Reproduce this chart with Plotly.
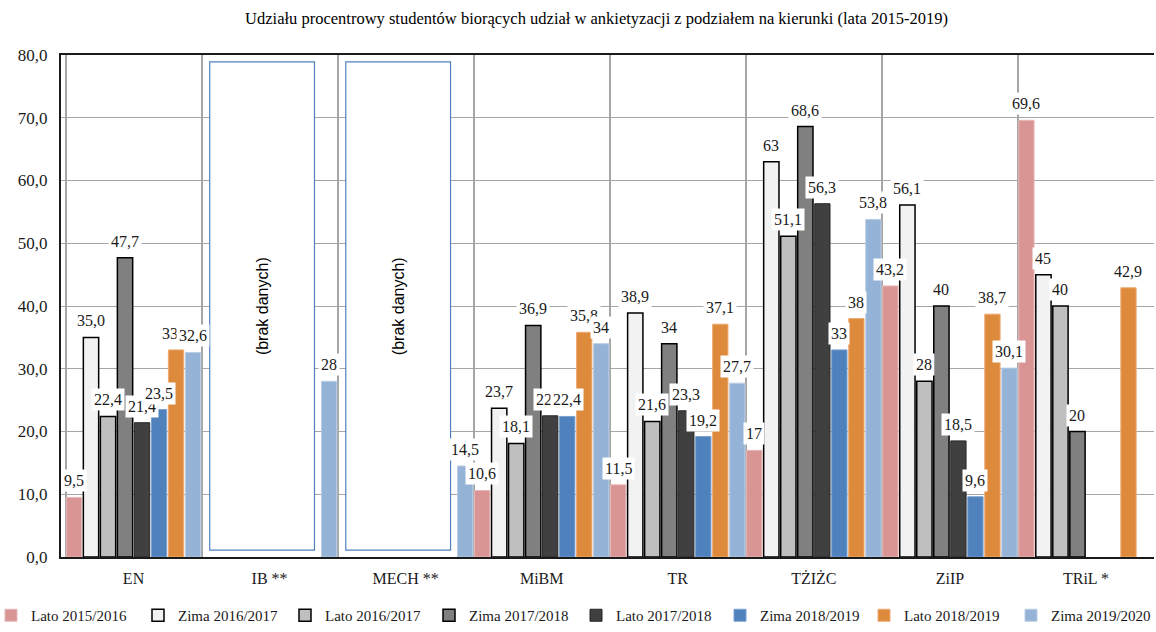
import plotly.graph_objects as go

categories = ["EN", "IB **", "MECH **", "MiBM", "TR", "TŻIŻC", "ZiIP", "TRiL *"]

series_names = ["Lato 2015/2016", "Zima 2016/2017", "Lato 2016/2017", "Zima 2017/2018",
                "Lato 2017/2018", "Zima 2018/2019", "Lato 2018/2019", "Zima 2019/2020"]

lato_1516 = [9.5, None, None, 10.6, 11.5, 17, 43.2, 69.6]
zima_1617 = [35.0, None, None, 23.7, 38.9, 63, 56.1, 45]
lato_1617 = [22.4, None, None, 18.1, 21.6, 51.1, 28, 40]
zima_1718 = [47.7, None, None, 36.9, 34, 68.6, 40, 20]
lato_1718 = [21.4, None, None, 22.5, 23.3, 56.3, 18.5, None]
zima_1819 = [23.5, None, None, 22.4, 19.2, 33, 9.6, None]
lato_1819 = [33.0, None, None, 35.8, 37.1, 38, 38.7, 42.9]
zima_1920 = [32.6, 28, 14.5, 34, 27.7, 53.8, 30.1, None]

no_data_categories = ["IB **", "MECH **"]
no_data_text = "(brak danych)"

y_ticks = [0, 10, 20, 30, 40, 50, 60, 70, 80]

series_values = [lato_1516, zima_1617, lato_1617, zima_1718,
                 lato_1718, zima_1819, lato_1819, zima_1920]

# ---- styling / layout ----
W, H = 1156, 632
ML, MR, MT, MB = 61, 2, 55, 75
colors = ["#D99594", "#F2F2F2", "#BFBFBF", "#808080",
          "#404040", "#4F81BD", "#DE8A3C", "#95B3D7"]
line_colors = ["#E6B9B8", "#000000", "#000000", "#000000",
               "#262626", "#7AA0D0", "#EDAA70", "#B9CDE5"]
line_widths = [1, 1.5, 1.5, 1.5, 1, 1, 1, 1]
legend_left_px = [-9, 138, 285, 429, 576, 720, 864, 1011]  # left edge of each legend entry

SERIF = "Liberation Serif"


def fmt(v, cat):
    if cat == "EN":
        s = f"{v:.1f}"
    else:
        s = f"{v:g}"
    return s.replace(".", ",")


fig = go.Figure()
n_series = len(series_values)
annotations = []
legends = {}
plot_w = W - ML - MR
plot_h = H - MT - MB
for k, (name, vals) in enumerate(zip(series_names, series_values)):
    lg = "legend" if k == 0 else f"legend{k + 1}"
    fig.add_trace(go.Bar(
        name=name, x=categories, y=vals, legend=lg,
        marker=dict(color=colors[k], line=dict(color=line_colors[k], width=line_widths[k])),
        hoverinfo="x+y+name",
    ))
    legends[lg] = dict(
        orientation="h", xref="paper", yref="container",
        x=(legend_left_px[k] - ML) / plot_w, y=0.0,
        xanchor="left", yanchor="bottom", bgcolor="rgba(0,0,0,0)",
        font=dict(family=SERIF, size=15, color="#1a1a1a"), itemclick=False,
    )
    for i, (cat, v) in enumerate(zip(categories, vals)):
        if v is None:
            continue
        annotations.append(dict(
            x=i + (k - (n_series - 1) / 2) / n_series, y=v, xref="x", yref="y",
            text=fmt(v, cat), showarrow=False, yanchor="bottom", yshift=5,
            bgcolor="white", borderpad=2,
            font=dict(family=SERIF, size=16, color="#1a1a1a"),
        ))

shapes = []
for cat in no_data_categories:
    i = categories.index(cat)
    shapes.append(dict(type="rect", xref="x", yref="y", x0=i - 0.44, x1=i + 0.33,
                       y0=1.1, y1=78.9, fillcolor="white",
                       line=dict(color="#4F81BD", width=1.2), layer="above"))
    annotations.append(dict(x=i - 0.055, y=40, xref="x", yref="y", text=no_data_text,
                            showarrow=False, textangle=-90,
                            font=dict(family="Liberation Sans", size=16, color="#000")))

fig.update_layout(
    width=W, height=H,
    margin=dict(l=ML, r=MR, t=MT, b=MB, autoexpand=False),
    paper_bgcolor="white", plot_bgcolor="white",
    separators=", ",
    barmode="group", bargap=0, bargroupgap=0.1,
    title=dict(text="Udziału procentrowy studentów biorących udział w ankietyzacji z podziałem na kierunki (lata 2015-2019)",
               x=0.516, xanchor="center", y=1 - 18 / H, yanchor="middle",
               font=dict(family=SERIF, size=16.5, color="#000")),
    font=dict(family=SERIF, color="#000"),
    showlegend=True,
    annotations=annotations,
    shapes=shapes,
    **legends,
)
fig.update_xaxes(
    type="category", tickson="boundaries", showgrid=True, gridcolor="#A6A6A6", gridwidth=1.5,
    showline=True, linecolor="#1a1a1a", linewidth=2, mirror=True, ticks="",
    ticklabelstandoff=6, automargin=False,
    tickfont=dict(family=SERIF, size=16, color="#1a1a1a"),
)
fig.update_yaxes(
    range=[0, 80], tickvals=y_ticks, tickformat=".1f", showgrid=True,
    gridcolor="#A6A6A6", gridwidth=1.2, zeroline=False,
    showline=True, linecolor="#1a1a1a", linewidth=2, ticks="",
    ticklabelstandoff=8, automargin=False,
    tickfont=dict(family=SERIF, size=17, color="#1a1a1a"),
)

fig.write_html("out.html", config={"displayModeBar": False},
               post_script="document.body.style.margin='0';document.body.style.overflow='hidden';")
